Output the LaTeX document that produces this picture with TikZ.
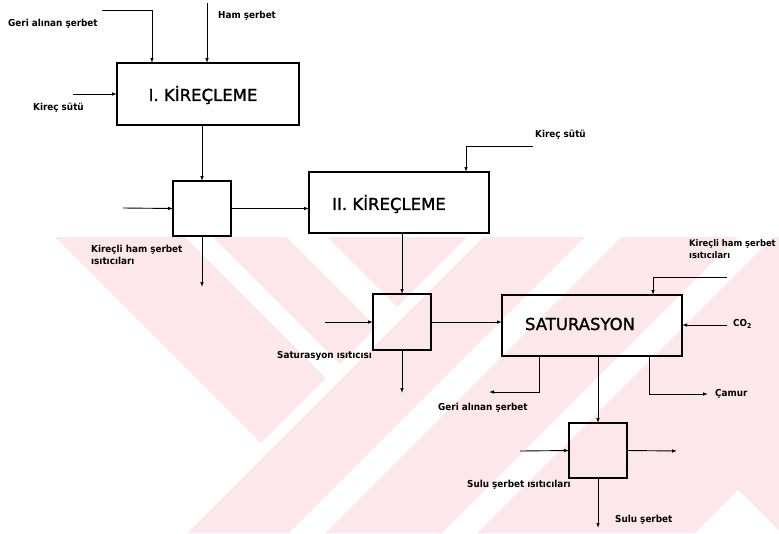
\documentclass[tikz,border=0pt]{standalone}
\usepackage{fontspec}
\setmainfont{DejaVu Sans}
\newfontfamily\lblfont{DejaVu Sans Bold}[FakeStretch=0.92]
\newfontfamily\ttlfont{DejaVu Sans}[FakeBold=1.3]
\usetikzlibrary{arrows.meta}
\definecolor{wmark}{RGB}{252,232,236}
\begin{document}
\begin{tikzpicture}[x=1pt,y=-1pt,
  unitbox/.style={draw, line width=1.1pt, inner sep=0pt, outer sep=0pt},
  flow/.style={line width=0.9pt, -{Latex[length=5pt,width=3.6pt]}},
  ttl/.style={inner sep=0pt, font=\ttlfont\fontsize{16.5}{18}\selectfont},
  lbl/.style={inner sep=0pt, anchor=west, font=\lblfont\fontsize{9.6}{12.5}\selectfont}]
\useasboundingbox (0,0) rectangle (779,533);

% background emblem: striped chevrons
\fill[wmark] (0,237) rectangle (779,533);
\fill[white] (0,237) -- (55,237) -- (269,451) -- (187,533) -- (0,533) -- cycle;
\fill[white] (185,237) -- (213,237) -- (341,365) -- (327,379) -- cycle;
\fill[white] (287,237) -- (327,237) -- (398,308) -- (378,328) -- cycle;
\fill[white] (467,237) -- (483,237) -- (187,533) -- (171,533) -- cycle;
\fill[white] (585,237) -- (621,237) -- (325,533) -- (289,533) -- cycle;
\fill[white] (738,237) -- (773,237) -- (477,533) -- (442,533) -- cycle;
\fill[white] (738,490) -- (779,531) -- (779,533) -- (695,533) -- cycle;

% process units
\node[unitbox, minimum width=182pt, minimum height=62pt] (k1) at (208,94) {};
\node[unitbox, minimum width=58pt, minimum height=55pt] (h1) at (202,208.5) {};
\node[unitbox, minimum width=180pt, minimum height=61pt] (k2) at (399,202.5) {};
\node[unitbox, minimum width=58pt, minimum height=56pt] (h2) at (402,322) {};
\node[unitbox, minimum width=180pt, minimum height=61pt] (sat) at (592,325.5) {};
\node[unitbox, minimum width=58pt, minimum height=55pt] (h3) at (598,450.5) {};

% unit titles
\node[ttl] (k1t) at (203,95) {I. KİREÇLEME};
\node[ttl] (k2t) at (389,204) {II. KİREÇLEME};
\node[ttl] (satt) at (580,324) {SATURASYON};

% free ends of the streams
\coordinate (gin) at (102,10);
\coordinate (gx) at (152,10);
\coordinate (hin) at (207,3);
\coordinate (ksin) at (73,94);
\coordinate (h1in) at (123,208);
\coordinate (h1out) at (202,287);
\coordinate (ks2in) at (533,146);
\coordinate (ks2c) at (466,146);
\coordinate (h2in) at (325,322);
\coordinate (h2out) at (402,393);
\coordinate (satin) at (727,277);
\coordinate (satc) at (653,277);
\coordinate (co2in) at (727,325);
\coordinate (gb) at (539,392);
\coordinate (gbout) at (489,392);
\coordinate (cm) at (649,394);
\coordinate (cmout) at (708,394);
\coordinate (h3in) at (520,451);
\coordinate (h3out) at (677,451);
\coordinate (h3bot) at (598,528);

% streams
\draw[flow] (gin) -- (gx) -- (gx |- k1.north);
\draw[flow] (hin) -- (hin |- k1.north);
\draw[flow] (ksin) -- (ksin -| k1.west);
\draw[flow] (h1.north |- k1.south) -- (h1.north);
\draw[flow] (h1in) -- (h1.west);
\draw[flow] (h1.east) -- (h1.east -| k2.west);
\draw[flow] (h1.south) -- (h1out);
\draw[flow] (ks2in) -- (ks2c) -- (ks2c |- k2.north);
\draw[flow] (h2.north |- k2.south) -- (h2.north);
\draw[flow] (h2in) -- (h2.west);
\draw[flow] (h2.east) -- (h2.east -| sat.west);
\draw[flow] (h2.south) -- (h2out);
\draw[flow] (satin) -- (satc) -- (satc |- sat.north);
\draw[flow] (co2in) -- (co2in -| sat.east);
\draw[flow] (gb |- sat.south) -- (gb) -- (gbout);
\draw[flow] (h3.north |- sat.south) -- (h3.north);
\draw[flow] (cm |- sat.south) -- (cm) -- (cmout);
\draw[flow] (h3in) -- (h3.west);
\draw[flow] (h3.east) -- (h3out);
\draw[flow] (h3.south) -- (h3bot);

% stream labels
\node[lbl] (l1) at (8,24) {Geri alınan şerbet};
\node[lbl] (l2) at (218,16) {Ham şerbet};
\node[lbl] (l3) at (33,108) {Kireç sütü};
\node[lbl] (l4) at (535,135) {Kireç sütü};
\node[lbl, align=left] (l5) at (91,255) {Kireçli ham şerbet\\ısıtıcıları};
\node[lbl] (l6) at (277,356) {Saturasyon ısıtıcısı};
\node[lbl, align=left, font=\lblfont\fontsize{9.1}{12.5}\selectfont] (l7) at (689,249) {Kireçli ham şerbet\\ısıtıcıları};
\node[lbl] (l8) at (733,324) {CO\textsubscript{2}};
\node[lbl] (l9) at (438,408) {Geri alınan şerbet};
\node[lbl] (l10) at (715,394) {Çamur};
\node[lbl] (l11) at (467,485) {Sulu şerbet ısıtıcıları};
\node[lbl] (l12) at (615,520) {Sulu şerbet};
\end{tikzpicture}
\end{document}
